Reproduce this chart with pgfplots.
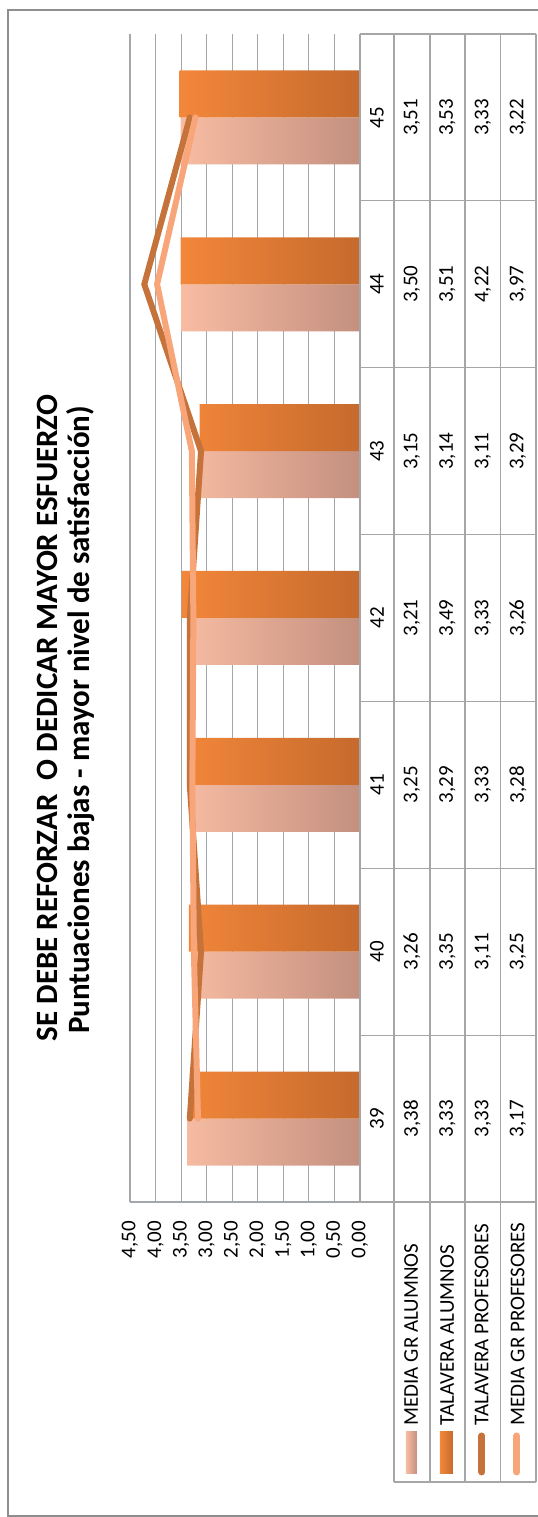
\documentclass[border=0pt]{standalone}
\usepackage{fontspec}
\setmainfont{Carlito}
\usepackage{pgfplots}
\pgfplotsset{compat=1.18}
\definecolor{gridgray}{HTML}{A3A6AB}
\definecolor{tablegray}{HTML}{A6A6A6}
\definecolor{framegray}{HTML}{8E8E8E}
\definecolor{lbL}{HTML}{F8BCA3}
\definecolor{lbM}{HTML}{EDAC94}
\definecolor{lbR}{HTML}{C3907F}
\definecolor{obL}{HTML}{F3873A}
\definecolor{obM}{HTML}{EE8232}
\definecolor{obR}{HTML}{C56A2D}
\definecolor{darkline}{HTML}{C5733A}
\definecolor{lightline}{HTML}{F8A57A}
\newcommand{\tabfont}{\fontsize{10.5bp}{12bp}\selectfont}
\newcommand{\titlefont}{\bfseries\fontsize{15.5bp}{18bp}\selectfont}
\begin{document}
\begin{tikzpicture}
\useasboundingbox (0,0) rectangle (269bp,758.5bp);
\begin{axis}[
  at={(65bp,157.5bp)}, anchor=south west,
  scale only axis, width=115bp, height=584bp,
  xmin=0, xmax=4.5, x dir=reverse,
  ymin=38.5, ymax=45.5,
  xtick={0,0.5,1,1.5,2,2.5,3,3.5,4,4.5},
  ytick=\empty,
  axis x line=bottom, axis y line=none,
  axis line style={-, draw=gridgray, line width=0.6bp},
  xmajorgrids, grid style={draw=gridgray, line width=0.6bp},
  major tick length=0pt,
  xticklabel style={rotate=90, anchor=east, font=\tabfont},
  xticklabel shift=6bp,
  /pgf/number format/fixed,
  /pgf/number format/fixed zerofill,
  /pgf/number format/precision=2,
  /pgf/number format/use comma,
  /pgf/number format/assume math mode=true,
  clip=false,
]
% MEDIA GR ALUMNOS
\addplot[xbar, bar width=23.5bp, bar shift=-11.75bp, draw=none,
  left color=lbL, middle color=lbM, right color=lbR]
  coordinates {(3.38,39) (3.26,40) (3.25,41) (3.21,42) (3.15,43) (3.50,44) (3.51,45)};
% TALAVERA ALUMNOS
\addplot[xbar, bar width=23.5bp, bar shift=11.75bp, draw=none,
  left color=obL, middle color=obM, right color=obR]
  coordinates {(3.33,39) (3.35,40) (3.29,41) (3.49,42) (3.14,43) (3.51,44) (3.53,45)};
% TALAVERA PROFESORES
\addplot[color=darkline, line width=3bp, line cap=round, mark=none]
  coordinates {(3.33,39) (3.11,40) (3.33,41) (3.33,42) (3.11,43) (4.22,44) (3.33,45)};
% MEDIA GR PROFESORES
\addplot[color=lightline, line width=3bp, line cap=round, mark=none]
  coordinates {(3.17,39) (3.25,40) (3.28,41) (3.26,42) (3.29,43) (3.97,44) (3.22,45)};
\end{axis}
\begin{scope}[x=0.5bp, y=-0.5bp, yshift=758.5bp]
% frame
\draw[framegray, line width=1bp] (8,10) rectangle (600,1516);
% title
\node[rotate=90, anchor=base, font=\titlefont, inner sep=0pt] at (57,718) {SE DEBE REFORZAR\ \ O DEDICAR MAYOR ESFUERZO};
\node[rotate=90, anchor=base, font=\titlefont, inner sep=0pt] at (90,720) {Puntuaciones bajas - mayor nivel de satisfacción)};
% table lines
\begin{scope}[tablegray, line width=0.6bp]
\foreach \k in {0,...,7} \draw (360,{34+\k*166.857}) -- (536,{34+\k*166.857});
\draw (360,34) -- (360,1202);
\foreach \x in {394,430,465,500.5,536} \draw (\x,34) -- (\x,1482);
\draw (394,1482) -- (536,1482);
\end{scope}
% table text
\begin{scope}[every node/.style={rotate=90, font=\tabfont, inner sep=0pt}]
% columns: category 377, rows 412, 447.5, 483, 518
% 45
\node at (377,117.4) {45}; \node at (412,117.4) {3,51}; \node at (447.5,117.4) {3,53}; \node at (483,117.4) {3,33}; \node at (518,117.4) {3,22};
% 44
\node at (377,284.3) {44}; \node at (412,284.3) {3,50}; \node at (447.5,284.3) {3,51}; \node at (483,284.3) {4,22}; \node at (518,284.3) {3,97};
% 43
\node at (377,451.1) {43}; \node at (412,451.1) {3,15}; \node at (447.5,451.1) {3,14}; \node at (483,451.1) {3,11}; \node at (518,451.1) {3,29};
% 42
\node at (377,618.0) {42}; \node at (412,618.0) {3,21}; \node at (447.5,618.0) {3,49}; \node at (483,618.0) {3,33}; \node at (518,618.0) {3,26};
% 41
\node at (377,784.9) {41}; \node at (412,784.9) {3,25}; \node at (447.5,784.9) {3,29}; \node at (483,784.9) {3,33}; \node at (518,784.9) {3,28};
% 40
\node at (377,951.7) {40}; \node at (412,951.7) {3,26}; \node at (447.5,951.7) {3,35}; \node at (483,951.7) {3,11}; \node at (518,951.7) {3,25};
% 39
\node at (377,1118.6) {39}; \node at (412,1118.6) {3,38}; \node at (447.5,1118.6) {3,33}; \node at (483,1118.6) {3,33}; \node at (518,1118.6) {3,17};
\end{scope}
% legend
\shade[left color=lbL, right color=lbR] (406,1432) rectangle (417,1474);
\shade[left color=obL, right color=obR] (440,1432) rectangle (453,1474);
\draw[darkline, line width=3.5bp, line cap=round] (482,1436) -- (482,1472);
\draw[lightline, line width=3.5bp, line cap=round] (517,1436) -- (517,1472);
\begin{scope}[every node/.style={rotate=90, anchor=base west, font=\tabfont, inner sep=0pt}]
\node at (418,1426) {MEDIA GR ALUMNOS};
\node at (454,1426) {TALAVERA ALUMNOS};
\node at (488.5,1426) {TALAVERA PROFESORES};
\node at (524.5,1426) {MEDIA GR PROFESORES};
\end{scope}
\end{scope}
\end{tikzpicture}
\end{document}
